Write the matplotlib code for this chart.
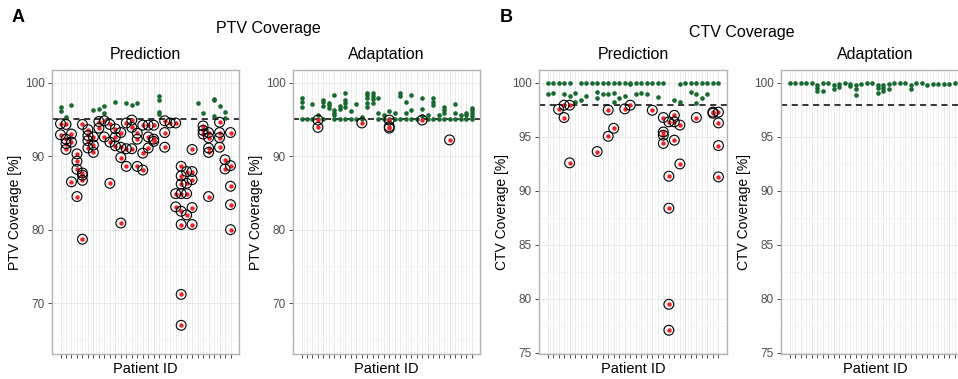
import numpy as np
import matplotlib
matplotlib.use("Agg")
import matplotlib.pyplot as plt

plt.rcParams["font.family"] = ["Liberation Sans", "DejaVu Sans"]

# coverage values per patient (list index = patient)
ptv_pred = [
    [96.7, 96.1, 94.4, 92.9], [95.3, 94.3, 92.3, 91.7, 90.9], [97.0, 93.0, 91.9, 86.5],
    [90.3, 89.3, 88.2, 84.5], [94.3, 87.7, 87.4, 86.7, 78.7], [93.6, 92.8, 92.1, 91.1],
    [96.2, 92.6, 91.5, 90.5], [96.4, 94.7, 93.8], [96.8, 95.8, 94.8, 92.6],
    [94.3, 91.9, 86.3], [97.3, 93.7, 92.6, 91.4], [93.2, 91.2, 89.8, 80.9],
    [97.2, 94.5, 91.0, 88.6], [96.9, 94.9, 93.9, 91.0], [97.2, 93.1, 92.3, 88.6],
    [94.2, 90.4, 88.1], [94.2, 92.6, 91.1], [94.2, 92.3, 92.0],
    [98.2, 97.6, 96.0, 95.75], [94.8, 93.2, 91.2], [94.5], [94.5, 84.9, 83.1],
    [88.6, 87.3, 86.2, 84.9, 82.5, 80.7, 71.2, 67.0], [87.9, 86.3, 84.9, 82.0],
    [90.9, 87.9, 86.8, 83.0, 80.7], [97.2], [95.9, 94.1, 93.5, 93.0],
    [93.2, 92.5, 91.1, 90.5, 84.5], [97.8, 97.6, 95.5], [96.8, 94.6, 93.2, 92.5, 91.2],
    [96.0, 95.2, 89.5, 88.25], [93.2, 88.7, 85.9, 83.4, 80.0],
]
ptv_adapt = [
    [97.9, 97.4, 96.7, 95.0], [95.0], [97.1, 95.0], [95.6, 94.9, 93.9],
    [97.65, 97.3, 96.75, 95.0], [97.2, 96.9, 96.5], [98.3, 96.3, 95.9, 95.6, 95.0],
    [96.8, 96.4, 95.0], [98.56, 97.56, 97.2, 96.7, 95.0], [96.1, 95.0], [97.1, 95.0],
    [95.3, 95.0, 94.5], [98.56, 98.3, 97.9, 97.2, 96.7], [98.6, 98.1, 97.7, 97.2],
    [97.9, 95.9, 95.0], [95.6, 95.0], [96.1, 95.0, 94.9, 94.0, 93.8], [95.8, 95.0],
    [98.56, 98.2, 95.0], [97.4, 95.9, 95.0], [98.3, 96.3, 95.0], [95.0],
    [97.9, 96.4, 95.5, 94.9], [95.6, 95.0], [97.9, 97.4, 97.0, 95.0], [95.6, 95.0],
    [96.7, 96.3, 95.9, 95.0], [95.0, 92.2], [97.1, 95.9, 95.0], [95.6, 95.0],
    [95.9, 95.6, 95.0], [96.5, 96.2, 95.8, 95.4, 95.0],
]
ctv_pred = [
    [100, 98.96], [100, 99.1], [100, 97.56], [100, 98.96, 97.94, 96.8],
    [100, 98.8, 97.94, 92.6], [99.1, 98.2], [100, 98.4], [100, 98.8], [100],
    [100, 99.2, 98.6, 93.65], [100, 98.96], [100, 99.0, 97.5, 95.06],
    [100, 99.1, 98.2, 95.8], [100, 98.6], [100, 98.8, 97.6], [99.9, 100, 97.94],
    [100, 98.96], [100, 99.1], [100, 98.96], [99.95, 97.47], [100, 98.7],
    [100, 96.8, 95.46, 95.16, 94.4], [96.4, 91.36, 88.4, 79.5, 77.1],
    [98.4, 97.0, 96.4, 94.7], [99.9, 98.2, 96.1, 92.5], [100], [100, 99.15],
    [100, 99.0, 98.1, 96.8], [100, 98.6], [100, 98.96], [100, 97.3, 97.2],
    [100, 97.3, 96.3, 94.2, 91.3],
]
ctv_adapt = [
    [100], [100], [100], [100], [100], [99.8, 99.5, 99.3], [100, 99.3], [100],
    [99.8, 99.4], [99.9, 99.6], [100], [99.9, 99.7], [99.8, 99.4, 98.9], [99.9],
    [100], [100], [99.8, 99.5, 99.1], [99.8, 99.5, 99.3], [99.9, 99.4], [100],
    [100], [100], [99.8, 99.4], [100], [100], [99.8], [99.9], [99.9], [99.9],
    [99.9], [100], [100],
]

GREEN = "#17692f"
RED = "#ee2127"
W, H = 958, 379

fig = plt.figure(figsize=(W / 100, H / 100), dpi=100)


def px_axes(left, top, width, height):
    return fig.add_axes([left / W, 1 - (top + height) / H, width / W, height / H])


def panel(ax, data, thresh, ylim, yticks, yminor, ylabel, title):
    pid = np.concatenate([[i] * len(v) for i, v in enumerate(data)])
    val = np.concatenate(data)
    ax.set_xlim(-1.55, len(data) - 1 + 1.55)
    ax.set_ylim(*ylim)
    ax.set_xticks(np.arange(len(data)))
    ax.set_xticks(np.arange(len(data) - 1) + 0.5, minor=True)
    ax.set_xticklabels([])
    ax.set_yticks(yticks)
    ax.set_yticks(yminor, minor=True)
    ax.grid(which="major", color="#e6e6e6", lw=0.6)
    ax.grid(which="minor", color="#f3f3f3", lw=0.5)
    ax.set_axisbelow(True)
    ax.tick_params(which="major", length=3, color="#4d4d4d", labelsize=8.5,
                   labelcolor="#4d4d4d", width=0.7, pad=2)
    ax.tick_params(which="minor", length=0)
    for s in ax.spines.values():
        s.set_color("#b3b3b3")
        s.set_linewidth(1.0)
    ax.axhline(thresh, color="black", ls=(0, (4, 3)), lw=1.1, zorder=2)
    ok = val >= thresh
    ax.scatter(pid[ok], val[ok], s=11, color=GREEN, lw=0, zorder=3)
    ax.scatter(pid[~ok], val[~ok], s=10, color=RED, lw=0, zorder=4)
    ax.scatter(pid[~ok], val[~ok], s=50, facecolors="none", edgecolors="black",
               lw=0.8, zorder=5)
    ax.set_ylabel(ylabel, fontsize=10, labelpad=2)
    ax.set_xlabel("Patient ID", fontsize=10.5, labelpad=1)
    ax.set_title(title, fontsize=11.5, pad=8)


ptv_ticks = [70, 80, 90, 100]
ptv_minor = [65, 75, 85, 95]
ctv_ticks = [75, 80, 85, 90, 95, 100]
ctv_minor = [77.5, 82.5, 87.5, 92.5, 97.5]

ax1 = px_axes(52, 70, 187, 284)
panel(ax1, ptv_pred, 95, (63.1, 101.7), ptv_ticks, ptv_minor, "PTV Coverage [%]", "Prediction")
ax2 = px_axes(293, 70, 187, 284)
panel(ax2, ptv_adapt, 95, (63.1, 101.7), ptv_ticks, ptv_minor, "PTV Coverage [%]", "Adaptation")
ax3 = px_axes(539, 70, 188, 284)
panel(ax3, ctv_pred, 98, (74.9, 101.2), ctv_ticks, ctv_minor, "CTV Coverage [%]", "Prediction")
ax4 = px_axes(781, 70, 188, 284)
panel(ax4, ctv_adapt, 98, (74.9, 101.2), ctv_ticks, ctv_minor, "CTV Coverage [%]", "Adaptation")

fig.text(12 / W, 1 - 17 / H, "A", fontsize=13, fontweight="bold", va="center")
fig.text(500 / W, 1 - 17 / H, "B", fontsize=13, fontweight="bold", va="center")
fig.text(268 / W, 1 - 29 / H, "PTV Coverage", fontsize=11.5, ha="center", va="center")
fig.text(742 / W, 1 - 32 / H, "CTV Coverage", fontsize=11.5, ha="center", va="center")

fig.savefig("out.png", dpi=100)
